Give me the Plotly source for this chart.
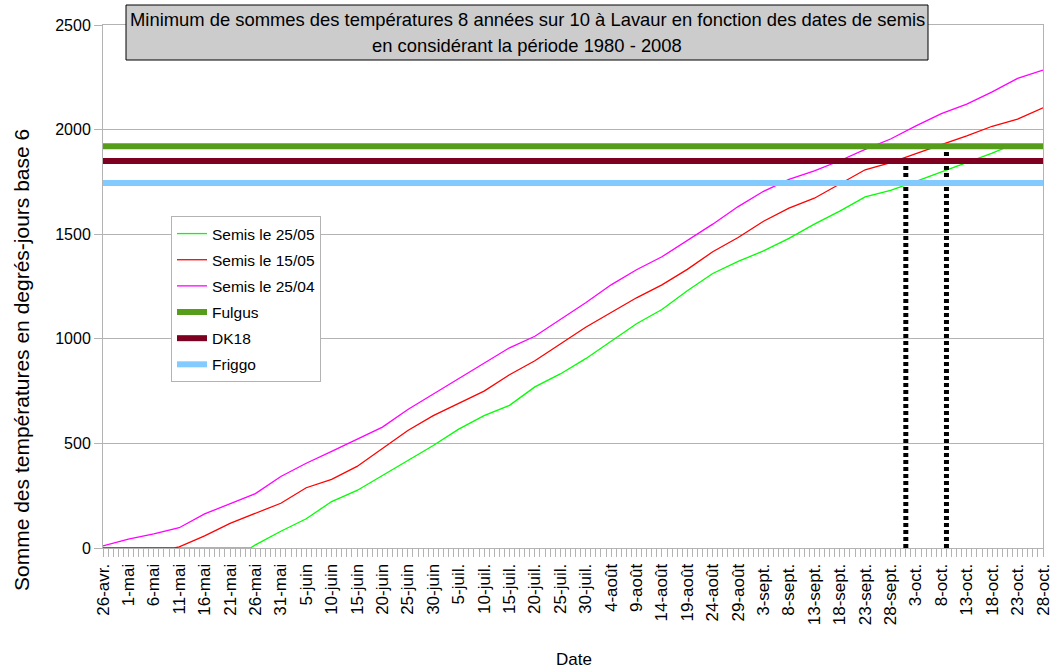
import plotly.graph_objects as go

# ---- data ----
DATES = ["2008-04-26","2008-05-01","2008-05-06","2008-05-11","2008-05-16","2008-05-21","2008-05-26","2008-05-31",
         "2008-06-05","2008-06-10","2008-06-15","2008-06-20","2008-06-25","2008-06-30","2008-07-05","2008-07-10",
         "2008-07-15","2008-07-20","2008-07-25","2008-07-30","2008-08-04","2008-08-09","2008-08-14","2008-08-19",
         "2008-08-24","2008-08-29","2008-09-03","2008-09-08","2008-09-13","2008-09-18","2008-09-23","2008-09-28",
         "2008-10-03","2008-10-08","2008-10-13","2008-10-18","2008-10-23","2008-10-28"]
TICK_LABELS = ["26-avr.","1-mai","6-mai","11-mai","16-mai","21-mai","26-mai","31-mai","5-juin","10-juin",
               "15-juin","20-juin","25-juin","30-juin","5-juil.","10-juil.","15-juil.","20-juil.","25-juil.",
               "30-juil.","4-août","9-août","14-août","19-août","24-août","29-août","3-sept.","8-sept.",
               "13-sept.","18-sept.","23-sept.","28-sept.","3-oct.","8-oct.","13-oct.","18-oct.","23-oct.","28-oct."]

SEMIS_2505_DATES = DATES[:6] + ["2008-05-25"] + DATES[6:36] + ["2008-10-21"]
SEMIS_2505 = [0, 0, 0, 0, 0, 0, 0,
              15, 80, 140, 222, 275, 345, 418, 490, 568, 633,
              682, 770, 832, 905, 988, 1072, 1140, 1230, 1312, 1370,
              1420, 1480, 1548, 1610, 1678, 1710, 1752, 1797, 1842, 1888,
              1918]

SEMIS_1505_DATES = DATES[:3] + ["2008-05-10"] + DATES[3:]
SEMIS_1505 = [0, 0, 0, 0, 5,
              58, 118, 167, 214, 288, 328, 390, 478, 562, 633,
              690, 750, 828, 895, 975, 1055, 1126, 1196, 1258, 1332,
              1416, 1484, 1562, 1625, 1672, 1738, 1808, 1842, 1886, 1928,
              1970, 2016, 2050, 2104]

SEMIS_2504_DATES = DATES
SEMIS_2504 = [10, 42, 68, 97, 163, 212, 260, 342, 405, 462,
              522, 578, 662, 735, 812, 885, 957, 1012, 1090, 1172,
              1258, 1330, 1392, 1470, 1548, 1632, 1705, 1762, 1803, 1851,
              1905, 1955, 2018, 2076, 2122, 2180, 2245, 2284]

FULGUS = 1920
DK18 = 1850
FRIGGO = 1745
DOT_DATES = ["2008-10-01", "2008-10-09"]
DOT_LEVELS = [DK18, FULGUS]

FONT = "Liberation Sans, Arial, sans-serif"

fig = go.Figure()
fig.add_trace(go.Scatter(x=SEMIS_2505_DATES, y=SEMIS_2505, mode="lines", name="Semis le 25/05",
                         line=dict(color="#00FF00", width=1.3), legendgroup="a"))
fig.add_trace(go.Scatter(x=SEMIS_1505_DATES, y=SEMIS_1505, mode="lines", name="Semis le 15/05",
                         line=dict(color="#FF0000", width=1.3), legendgroup="b"))
fig.add_trace(go.Scatter(x=SEMIS_2504_DATES, y=SEMIS_2504, mode="lines", name="Semis le 25/04",
                         line=dict(color="#FF00FF", width=1.3), legendgroup="c"))
for d, lvl in zip(DOT_DATES, DOT_LEVELS):
    fig.add_trace(go.Scatter(x=[d, d], y=[0, lvl], mode="lines", showlegend=False,
                             line=dict(color="#000000", width=5, dash="4px,3px")))
for name, val, col, g in [("Fulgus", FULGUS, "#579D1C", "d"), ("DK18", DK18, "#7E0021", "e"),
                          ("Friggo", FRIGGO, "#83CAFF", "f")]:
    fig.add_trace(go.Scatter(x=[DATES[0], DATES[-1]], y=[val, val], mode="lines", name=name,
                             line=dict(color=col, width=6), legendgroup=g))

L, R, T, B = 103, 14, 25, 124
PW = 1057 - L - R
PH = 672 - T - B

def px(x):
    return (x - L) / PW

def py(y):
    return (672 - B - y) / PH

fig.update_layout(
    width=1057, height=672,
    margin=dict(l=L, r=R, t=T, b=B, autoexpand=False),
    paper_bgcolor="white", plot_bgcolor="white",
    font=dict(family=FONT, size=16, color="black"),
    showlegend=True,
    legend=dict(x=px(171), y=py(216), xanchor="left", yanchor="top",
                bordercolor="#B3B3B3", borderwidth=1, bgcolor="white",
                font=dict(size=15.5), tracegroupgap=3),
    xaxis=dict(type="date", range=[DATES[0], DATES[-1]], automargin=False,
               tickmode="array", tickvals=DATES, ticktext=TICK_LABELS, tickangle=-90,
               ticks="outside", ticklen=8, tickcolor="#B3B3B3",
               minor=dict(dtick=86400000, ticks="outside", ticklen=8, tickcolor="#B3B3B3", showgrid=False),
               showgrid=False, showline=True, linecolor="#B3B3B3", mirror=True,
               tickfont=dict(size=17), zeroline=False),
    yaxis=dict(range=[0, 2500], dtick=500, tick0=0, ticks="outside", ticklen=8, tickcolor="#B3B3B3",
               automargin=False,
               showgrid=True, gridcolor="#B3B3B3", showline=True, linecolor="#B3B3B3", mirror=True,
               tickfont=dict(size=16), zeroline=False),
    shapes=[dict(type="rect", xref="paper", yref="paper",
                 x0=px(126), x1=px(928), y0=py(60), y1=py(5),
                 fillcolor="#CCCCCC", line=dict(color="black", width=1), layer="above")],
    annotations=[
        dict(text="Minimum de sommes des températures 8 années sur 10 à Lavaur en fonction des dates de semis",
             xref="paper", yref="paper", x=px(527), y=py(19),
             xanchor="center", yanchor="middle", showarrow=False, font=dict(size=18.4)),
        dict(text="en considérant la période 1980 - 2008",
             xref="paper", yref="paper", x=px(527), y=py(45),
             xanchor="center", yanchor="middle", showarrow=False, font=dict(size=18.4)),
        dict(text="Somme des températures en degrés-jours base 6", textangle=-90,
             xref="paper", yref="paper", x=px(21), y=py(360),
             xanchor="center", yanchor="middle", showarrow=False, font=dict(size=21)),
        dict(text="Date", xref="paper", yref="paper", x=px(574), y=py(659),
             xanchor="center", yanchor="middle", showarrow=False, font=dict(size=17)),
    ],
)

fig.write_html("out.html", config={"displayModeBar": False},
               post_script="document.body.style.margin='0px';document.body.style.overflow='hidden';")
